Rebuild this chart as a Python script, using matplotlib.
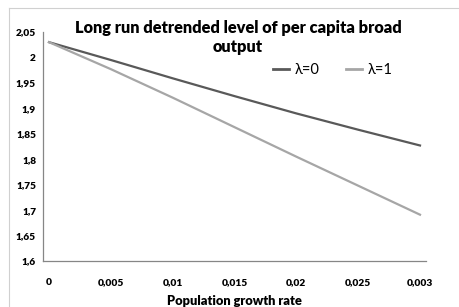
import matplotlib.pyplot as plt
from matplotlib.lines import Line2D

# categories as they appear on the x axis (last label is a typo in the source)
growth_labels = ["0", "0,005", "0,01", "0,015", "0,02", "0,025", "0,003"]
lambda0 = [2.03, 1.995, 1.959, 1.924, 1.890, 1.858, 1.827]
lambda1 = [2.03, 1.977, 1.921, 1.863, 1.805, 1.748, 1.691]
y_ticks = [1.6, 1.65, 1.7, 1.75, 1.8, 1.85, 1.9, 1.95, 2.0, 2.05]
y_labels = ["1,6", "1,65", "1,7", "1,75", "1,8", "1,85", "1,9", "1,95", "2", "2,05"]

plt.rcParams["font.family"] = ["Lato", "DejaVu Sans"]

fig = plt.figure(figsize=(4.59, 3.07), dpi=100)
ax = fig.add_axes([43/459, 1-261/307, (426-43)/459, (261-32)/307])

x = list(range(len(growth_labels)))
ax.plot(x, lambda0, color="#595959", lw=1.6, label="λ=0")
ax.plot(x, lambda1, color="#A6A6A6", lw=1.6, label="λ=1")

ax.set_xlim(-0.097, 6.097)
ax.set_ylim(1.6, 2.05)
ax.set_xticks(x)
ax.set_xticklabels(growth_labels, fontsize=7.3, fontweight="heavy")
ax.set_yticks(y_ticks)
ax.set_yticklabels(y_labels, fontsize=7.3, fontweight="heavy")
ax.tick_params(axis="x", length=0, pad=12)
ax.tick_params(axis="y", length=0, pad=5)

for s in ["top", "right"]:
    ax.spines[s].set_visible(False)
for s in ["left", "bottom"]:
    ax.spines[s].set_color("#868686")
    ax.spines[s].set_linewidth(0.9)

ax.set_xlabel("Population growth rate", fontsize=9.3, fontweight="heavy", labelpad=6)

fig.text(0.5185, 0.877, "Long run detrended level of per capita broad\noutput",
         ha="center", va="center", fontsize=11.8, fontweight="heavy", linespacing=1.2)

handles = [Line2D([], [], color="#595959", lw=2), Line2D([], [], color="#A6A6A6", lw=2)]
fig.legend(handles, ["λ=0", "λ=1"], loc="center", bbox_to_anchor=(0.7255, 0.772),
           ncol=2, frameon=False, fontsize=10.5, handlelength=1.1, handletextpad=0.4,
           columnspacing=1.8)

# chart area border (only top and left are inside the picture)
fig.add_artist(Line2D([9/459, 1], [1-8/307, 1-8/307], color="#D0D0D0", lw=0.8))
fig.add_artist(Line2D([9/459, 9/459], [0, 1-8/307], color="#D0D0D0", lw=0.8))

fig.savefig("out.png", dpi=100)
